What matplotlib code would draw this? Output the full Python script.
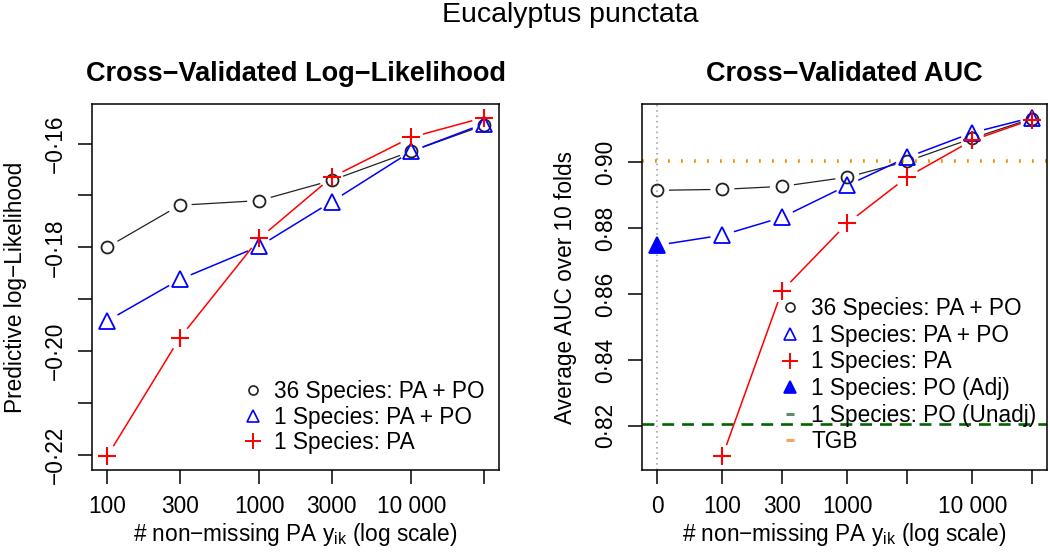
import numpy as np
import matplotlib.pyplot as plt
from matplotlib.lines import Line2D

plt.rcParams['font.family'] = ['Liberation Sans', 'DejaVu Sans']
plt.rcParams['axes.linewidth'] = 1.1

# ---- data ----
# left: cross-validated log-likelihood
n_pa = [100, 300, 1000, 3000, 10000, 30000]
ll_36_papo = [-0.1800, -0.1719, -0.1710, -0.1671, -0.1615, -0.1565]
ll_1_papo = [-0.1942, -0.1862, -0.1798, -0.1712, -0.1615, -0.1562]
ll_1_pa = [-0.2203, -0.1975, -0.1783, -0.1665, -0.1588, -0.1550]

# right: cross-validated AUC ("0" = presence-only, drawn at ZERO_POS on the log axis)
ZERO_POS = 30
n_pa_auc = [ZERO_POS, 100, 300, 1000, 3000, 10000, 30000]
auc_36_papo = [0.8915, 0.8918, 0.8927, 0.8955, 0.9003, 0.9073, 0.9133]
auc_1_papo = [0.8748, 0.8779, 0.8833, 0.8930, 0.9015, 0.9090, 0.9136]  # first = PO (Adj)
auc_1_pa = [0.8107, 0.8610, 0.8815, 0.8955, 0.9067, 0.9130]            # from 100 on
auc_po_unadj = 0.8205
auc_tgb = 0.9005

left_xticks = [100, 300, 1000, 3000, 10000, 30000]
left_xlabels = ['100', '300', '1000', '3000', '10 000', '']
right_xticks = [ZERO_POS, 100, 300, 1000, 3000, 10000, 30000]
right_xlabels = ['0', '100', '300', '1000', '', '10 000', '']
left_yticks = [-0.22, -0.21, -0.20, -0.19, -0.18, -0.17, -0.16]
right_yticks = [0.82, 0.84, 0.86, 0.88, 0.90]

BLACK = '#222222'
FS = 16.3


def r_lim(vals, log=False):
    # R style 4% axis extension
    v = np.log10(vals) if log else np.asarray(vals, float)
    lo, hi = v.min(), v.max()
    d = (hi - lo) * 0.04
    lo, hi = lo - d, hi + d
    return (10 ** lo, 10 ** hi) if log else (lo, hi)


def r_num(v):
    s = f"{v:.2f}".replace('-', '\u2212').replace('.', '\u00b7')
    return s


def type_b(ax, x, y, color, gap=12, lw=1.1):
    # lines with gaps around the points, like R type="b"
    pts = ax.transData.transform(np.column_stack([x, y]))
    inv = ax.transData.inverted()
    for p0, p1 in zip(pts[:-1], pts[1:]):
        d = p1 - p0
        L = np.hypot(*d)
        if L <= 2 * gap:
            continue
        u = d / L
        seg = inv.transform([p0 + u * gap, p1 - u * gap])
        ax.plot(seg[:, 0], seg[:, 1], color=color, lw=lw, solid_capstyle='butt')


def style_axes(ax):
    ax.tick_params(direction='out', length=10, width=1.1, labelsize=FS, pad=8)
    ax.tick_params(axis='y', labelrotation=90)
    for lab in ax.get_yticklabels():
        lab.set_va('center')
    ax.minorticks_off()


fig = plt.figure(figsize=(10.5, 5.55), dpi=100)
axL = fig.add_axes([92 / 1050, 85 / 555, 407 / 1050, 366 / 555])
axR = fig.add_axes([642 / 1050, 85 / 555, 405 / 1050, 366 / 555])

# ---------------- left panel ----------------
axL.set_xscale('log')
axL.set_xlim(r_lim(n_pa, log=True))
axL.set_ylim(r_lim(ll_36_papo + ll_1_papo + ll_1_pa))

type_b(axL, n_pa, ll_36_papo, BLACK, lw=0.9)
axL.plot(n_pa, ll_36_papo, ls='none', marker='o', ms=8.6, mfc='none', mec=BLACK, mew=1.3)
type_b(axL, n_pa, ll_1_papo, 'blue')
axL.plot(n_pa, ll_1_papo, ls='none', marker='^', ms=11, mfc='none', mec='blue', mew=1.3)
type_b(axL, n_pa, ll_1_pa, 'red')
axL.plot(n_pa, ll_1_pa, ls='none', marker='+', ms=13, mec='red', mew=1.5)

axL.set_xticks(left_xticks)
axL.set_xticklabels(left_xlabels)
axL.set_yticks(left_yticks)
axL.set_yticklabels([r_num(v) if i % 2 == 0 else '' for i, v in enumerate(left_yticks)])
style_axes(axL)
axL.set_title('Cross\u2212Validated Log\u2212Likelihood', fontsize=19.5, fontweight='bold', pad=16.5)
axL.set_ylabel('Predictive log\u2212Likelihood', fontsize=FS, labelpad=12)
axL.set_xlabel('# non\u2212missing PA $\\mathregular{y_{ik}}$ (log scale)', fontsize=FS, labelpad=2)

hL = [Line2D([], [], ls='none', marker='o', ms=6.5, mfc='none', mec=BLACK, mew=1.2),
      Line2D([], [], ls='none', marker='^', ms=8, mfc='none', mec='blue', mew=1.2),
      Line2D([], [], ls='none', marker='+', ms=11, mec='red', mew=1.4)]
axL.legend(hL, ['36 Species: PA + PO', '1 Species: PA + PO', '1 Species: PA'],
           loc='upper left', bbox_to_anchor=(0.373, 0.246), frameon=False, fontsize=FS,
           borderpad=0, borderaxespad=0, handlelength=0.8, handletextpad=0.55,
           labelspacing=0.12)

# ---------------- right panel ----------------
axR.set_xscale('log')
axR.set_xlim(r_lim(n_pa_auc, log=True))
axR.set_ylim(r_lim(auc_36_papo + auc_1_papo + auc_1_pa + [auc_po_unadj, auc_tgb]))

axR.axvline(ZERO_POS, color='#999999', ls=(0, (1, 2.5)), lw=1.1)
axR.axhline(auc_tgb, color='darkorange', ls=(0, (0.5, 3.1)), lw=2.6)
axR.axhline(auc_po_unadj, color='darkgreen', ls=(0, (4.5, 3.0)), lw=1.9)

type_b(axR, n_pa_auc, auc_36_papo, BLACK, lw=0.9)
axR.plot(n_pa_auc, auc_36_papo, ls='none', marker='o', ms=8.6, mfc='none', mec=BLACK, mew=1.3)
type_b(axR, n_pa_auc, auc_1_papo, 'blue')
axR.plot(n_pa_auc[1:], auc_1_papo[1:], ls='none', marker='^', ms=11, mfc='none', mec='blue', mew=1.3)
axR.plot(n_pa_auc[:1], auc_1_papo[:1], ls='none', marker='^', ms=11, mfc='blue', mec='blue', mew=1.3)
type_b(axR, n_pa_auc[1:], auc_1_pa, 'red')
axR.plot(n_pa_auc[1:], auc_1_pa, ls='none', marker='+', ms=13, mec='red', mew=1.5)

axR.set_xticks(right_xticks)
axR.set_xticklabels(right_xlabels)
axR.set_yticks(right_yticks)
axR.set_yticklabels([r_num(v) for v in right_yticks])
style_axes(axR)
axR.set_title('Cross\u2212Validated AUC', fontsize=19.5, fontweight='bold', pad=16.5)
axR.set_ylabel('Average AUC over 10 folds', fontsize=FS, labelpad=12)
axR.set_xlabel('# non\u2212missing PA $\\mathregular{y_{ik}}$ (log scale)', fontsize=FS, labelpad=2)

hR = [Line2D([], [], ls='none', marker='o', ms=6.5, mfc='none', mec=BLACK, mew=1.2),
      Line2D([], [], ls='none', marker='^', ms=8, mfc='none', mec='blue', mew=1.2),
      Line2D([], [], ls='none', marker='+', ms=11, mec='red', mew=1.4),
      Line2D([], [], ls='none', marker='^', ms=8, mfc='blue', mec='blue', mew=1.2),
      Line2D([], [], ls='none', marker='_', ms=6, mec='#5e8c6a', mew=2.2),
      Line2D([], [], ls='none', marker='_', ms=6, mec='#f7a35c', mew=2.2)]
axR.legend(hR, ['36 Species: PA + PO', '1 Species: PA + PO', '1 Species: PA',
                '1 Species: PO (Adj)', '1 Species: PO (Unadj)', 'TGB'],
           loc='upper left', bbox_to_anchor=(0.343, 0.472), frameon=False, fontsize=FS,
           borderpad=0, borderaxespad=0, handlelength=0.8, handletextpad=0.55,
           labelspacing=0.16)

fig.text(0.543, 1 - 22 / 555, 'Eucalyptus punctata', fontsize=20.5, ha='center', va='baseline')

fig.savefig('out.png', dpi=100)
